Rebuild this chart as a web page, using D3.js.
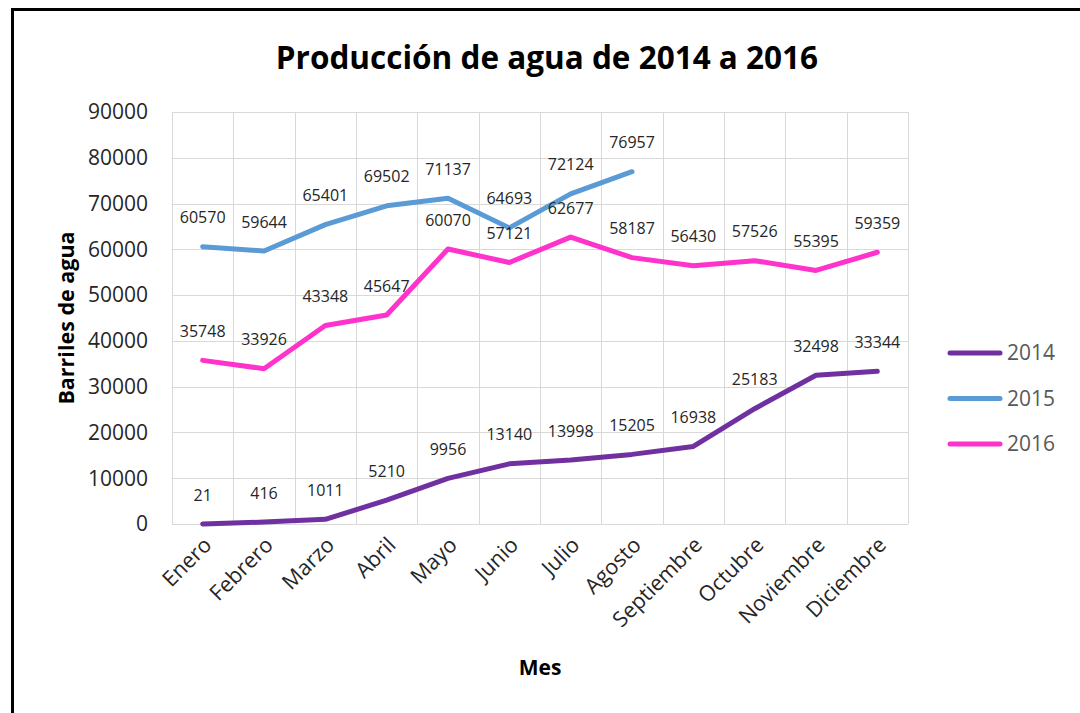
<!DOCTYPE html>
<html>
<head>
<meta charset="utf-8">
<script src="https://cdn.jsdelivr.net/npm/d3@7"></script>
<style>
  body { margin: 0; background: #fff; }
  svg text { font-family: "Open Sans", sans-serif; }
</style>
</head>
<body>
<div id="main"></div>
<script>
var width = 1080,
    height = 713;

// data
var months = ["Enero", "Febrero", "Marzo", "Abril", "Mayo", "Junio", "Julio",
              "Agosto", "Septiembre", "Octubre", "Noviembre", "Diciembre"];
var years = ["2014", "2015", "2016"];
var values2014 = [21, 416, 1011, 5210, 9956, 13140, 13998, 15205, 16938, 25183, 32498, 33344];
var values2015 = [60570, 59644, 65401, 69502, 71137, 64693, 72124, 76957];
var values2016 = [35748, 33926, 43348, 45647, 60070, 57121, 62677, 58187, 56430, 57526, 55395, 59359];
var yTicks = [0, 10000, 20000, 30000, 40000, 50000, 60000, 70000, 80000, 90000];
var colors = ["#7030a0", "#5b9bd5", "#ff33cc"];

var series = [values2014, values2015, values2016].map(function(vals, i) {
  return { name: years[i], color: colors[i],
           points: vals.map(function(v, j) { return { month: months[j], value: v }; }) };
});

var svg = d3.select("#main").append("svg")
    .attr("width", width)
    .attr("height", height);

svg.append("rect").attr("width", width).attr("height", height).attr("fill", "#fff");

// frame (only top and left edges are visible in the crop)
svg.append("line").attr("x1", 12).attr("x2", width).attr("y1", 9.5).attr("y2", 9.5)
    .attr("stroke", "#000").attr("stroke-width", 3);
svg.append("line").attr("x1", 12.5).attr("x2", 12.5).attr("y1", 8).attr("y2", height)
    .attr("stroke", "#000").attr("stroke-width", 3);

var x = d3.scaleBand().domain(months).range([172, 908]).padding(0);
var y = d3.scaleLinear().domain([0, 90000]).range([524, 112]);
var cx = function(m) { return x(m) + x.bandwidth() / 2; };

// gridlines
var grid = svg.append("g").attr("stroke", "#d9d9d9").attr("stroke-width", 1);
grid.selectAll("line.h").data(yTicks).enter().append("line")
    .attr("x1", 172).attr("x2", 908)
    .attr("y1", function(d) { return Math.round(y(d)) + 0.5; })
    .attr("y2", function(d) { return Math.round(y(d)) + 0.5; });
grid.selectAll("line.v").data(months.concat([null])).enter().append("line")
    .attr("x1", function(d, i) { return Math.round(172 + i * x.bandwidth()) + 0.5; })
    .attr("x2", function(d, i) { return Math.round(172 + i * x.bandwidth()) + 0.5; })
    .attr("y1", y(90000)).attr("y2", y(0));

// y axis labels
svg.append("g").selectAll("text").data(yTicks).enter().append("text")
    .attr("x", 148).attr("y", function(d) { return y(d); })
    .attr("dy", "0.35em")
    .attr("text-anchor", "end")
    .attr("font-size", 21)
    .attr("fill", "#262626")
    .text(function(d) { return d; });

// x axis labels
svg.append("g").selectAll("text").data(months).enter().append("text")
    .attr("transform", function(d) { return "translate(" + (cx(d) + 5) + "," + 541 + ") rotate(-45)"; })
    .attr("text-anchor", "end")
    .attr("dy", "0.35em")
    .attr("font-size", 21.5)
    .attr("fill", "#262626")
    .text(function(d) { return d; });

// lines
var line = d3.line()
    .x(function(d) { return cx(d.month); })
    .y(function(d) { return y(d.value); });

svg.append("g").selectAll("path").data(series).enter().append("path")
    .attr("d", function(d) { return line(d.points); })
    .attr("fill", "none")
    .attr("stroke", function(d) { return d.color; })
    .attr("stroke-width", 5)
    .attr("stroke-linejoin", "round")
    .attr("stroke-linecap", "round");

// data labels
var labels = svg.append("g");
series.forEach(function(s) {
  labels.selectAll(null).data(s.points).enter().append("text")
      .attr("x", function(d) { return cx(d.month); })
      .attr("y", function(d) { return y(d.value) - 29; })
      .attr("dy", "0.35em")
      .attr("text-anchor", "middle")
      .attr("font-size", 16)
      .attr("fill", "#262626")
      .text(function(d) { return d.value; });
});

// title
svg.append("text")
    .attr("x", 547).attr("y", 69)
    .attr("text-anchor", "middle")
    .attr("font-size", 31.5)
    .attr("font-weight", "bold")
    .attr("fill", "#000")
    .text("Producción de agua de 2014 a 2016");

// axis titles
svg.append("text")
    .attr("transform", "translate(74,318) rotate(-90)")
    .attr("text-anchor", "middle")
    .attr("font-size", 21.5)
    .attr("font-weight", "bold")
    .attr("fill", "#000")
    .text("Barriles de agua");

svg.append("text")
    .attr("x", 540).attr("y", 675)
    .attr("text-anchor", "middle")
    .attr("font-size", 21)
    .attr("font-weight", "bold")
    .attr("fill", "#000")
    .text("Mes");

// legend
var legend = svg.append("g").selectAll("g").data(series).enter().append("g")
    .attr("transform", function(d, i) { return "translate(0," + (353 + i * 45.5) + ")"; });
legend.append("line")
    .attr("x1", 950).attr("x2", 1000)
    .attr("stroke", function(d) { return d.color; })
    .attr("stroke-width", 5)
    .attr("stroke-linecap", "round");
legend.append("text")
    .attr("x", 1007)
    .attr("dy", "0.35em")
    .attr("font-size", 21)
    .attr("fill", "#595959")
    .text(function(d) { return d.name; });
</script>
</body>
</html>
